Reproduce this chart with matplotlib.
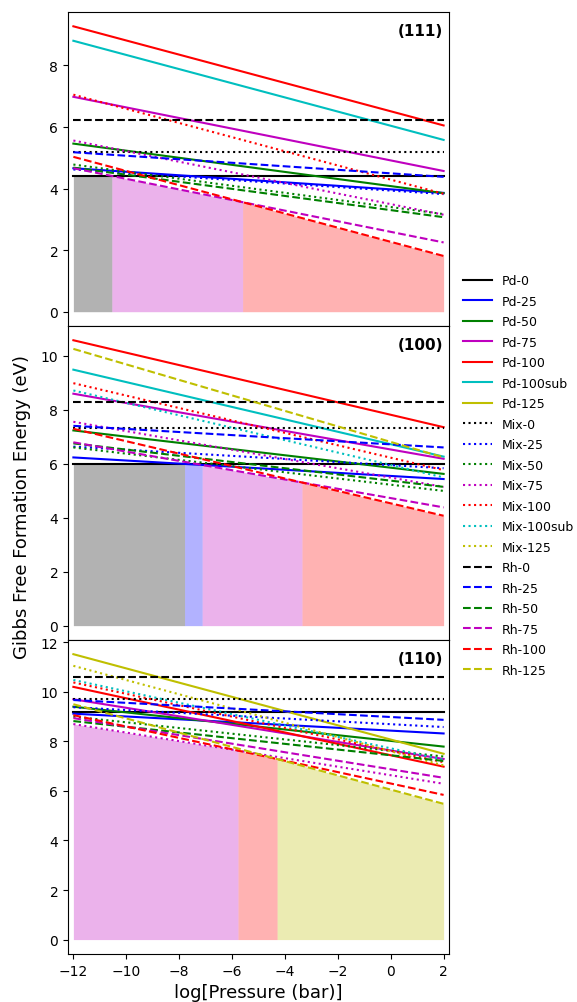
import numpy as np
import matplotlib
matplotlib.use("Agg")
import matplotlib.pyplot as plt

# log10 of O2 pressure range (bar)
log_p = [-12, 2]

labels = ["Pd-0", "Pd-25", "Pd-50", "Pd-75", "Pd-100", "Pd-100sub", "Pd-125",
          "Mix-0", "Mix-25", "Mix-50", "Mix-75", "Mix-100", "Mix-100sub", "Mix-125",
          "Rh-0", "Rh-25", "Rh-50", "Rh-75", "Rh-100", "Rh-125"]
colors = ["k", "b", "g", "m", "r", "c", "y"] * 2 + ["k", "b", "g", "m", "r", "y"]
styles = ["-"] * 7 + [":"] * 7 + ["--"] * 6

nan = np.nan

# formation energies (eV) at log P = -12 and log P = 2
e111_lo = [4.41, 4.66, 5.46, 6.98, 9.27, 8.80, nan,
           5.19, 4.62, 4.78, 5.56, 7.05, nan, nan,
           6.22, 5.18, 4.68, 4.66, 5.03, nan]
e111_hi = [4.41, 3.86, 3.85, 4.57, 6.05, 5.58, nan,
           5.19, 3.82, 3.17, 3.15, 3.83, nan, nan,
           6.22, 4.38, 3.07, 2.25, 1.81, nan]

e100_lo = [5.99, 6.23, 7.23, 8.59, 10.57, 9.48, nan,
           7.31, 6.63, 6.60, 7.55, 8.98, 8.71, nan,
           8.30, 7.40, 6.75, 6.79, 7.29, 10.25]
e100_hi = [5.99, 5.43, 5.62, 6.18, 7.35, 6.26, nan,
           7.31, 5.83, 4.99, 5.14, 5.76, 5.49, nan,
           8.30, 6.60, 5.14, 4.38, 4.07, 6.23]

e110_lo = [9.18, 9.12, 9.40, 9.70, 10.20, nan, 11.52,
           9.73, 9.38, 9.00, 8.70, 10.38, 10.48, 11.05,
           10.58, 9.67, 8.82, 8.94, 9.06, 9.50]
e110_hi = [9.18, 8.32, 7.79, 7.29, 6.98, nan, 7.50,
           9.73, 8.58, 7.39, 6.29, 7.16, 7.26, 7.03,
           10.58, 8.87, 7.21, 6.53, 5.84, 5.48]

facets = ["(111)", "(100)", "(110)"]
energies = [(e111_lo, e111_hi), (e100_lo, e100_hi), (e110_lo, e110_hi)]


def plot_stability(ax, e_lo, e_hi, facet, with_labels):
    lo = np.array(e_lo)
    hi = np.array(e_hi)

    # lowest-energy structure along the pressure axis, shaded by its colour
    xx = np.linspace(log_p[0], log_p[1], 2801)
    frac = (xx - log_p[0]) / (log_p[1] - log_p[0])
    grid = lo[:, None] + (hi - lo)[:, None] * frac[None, :]
    grid_filled = np.where(np.isnan(grid), np.inf, grid)
    best = np.argmin(grid_filled, axis=0)
    envelope = grid_filled[best, np.arange(len(xx))]

    start = 0
    for i in range(1, len(xx) + 1):
        if i == len(xx) or colors[best[i]] != colors[best[start]]:
            seg = slice(start, min(i + 1, len(xx)))
            ax.fill_between(xx[seg], 0, envelope[seg], color=colors[best[start]],
                            alpha=0.3, linewidth=0, zorder=1)
            start = i

    for k, lab in enumerate(labels):
        ax.plot(log_p, [lo[k], hi[k]], color=colors[k], linestyle=styles[k],
                linewidth=1.5, label=lab if with_labels else None, zorder=2)

    ax.text(0.985, 0.965, facet, transform=ax.transAxes, ha="right", va="top",
            fontsize=11, fontweight="bold")
    ax.set_xlim(-12.2, 2.2)
    ax.tick_params(labelsize=10)


fig, axes = plt.subplots(3, 1, sharex=True, figsize=(5.77, 10.03), dpi=100)
fig.subplots_adjust(left=0.118, right=0.778, top=0.987, bottom=0.048, hspace=0)

for i, ax in enumerate(axes):
    plot_stability(ax, energies[i][0], energies[i][1], facets[i], i == 0)

axes[-1].set_xticks(np.arange(-12, 3, 2))
axes[-1].set_xlabel("log[Pressure (bar)]", fontsize=13)
fig.text(0.038, 0.495, "Gibbs Free Formation Energy (eV)", rotation=90,
         ha="center", va="center", fontsize=13)

handles, names = axes[0].get_legend_handles_labels()
fig.legend(handles, names, loc="center left", bbox_to_anchor=(0.794, 0.525),
           frameon=False, fontsize=9, handlelength=2.3, labelspacing=0.6,
           borderaxespad=0)

fig.savefig("out.png", dpi=100)
